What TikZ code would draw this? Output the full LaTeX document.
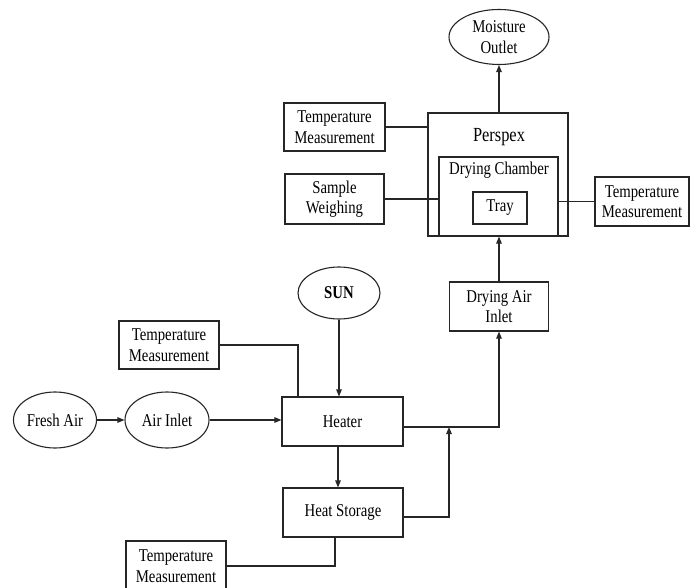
\documentclass[tikz,border=0pt]{standalone}
\usepackage{fontspec}
\setmainfont{Liberation Serif}[FakeStretch=0.82]
\usetikzlibrary{shapes.geometric,arrows.meta}
\newcommand\mydiafont{\fontsize{18}{20.5}\selectfont}
\newcommand\mybigfont{\fontsize{20}{22}\selectfont}
\begin{document}
\begin{tikzpicture}[x=1pt,y=-1pt,
  box/.style={draw=black!85, line width=1.1pt, inner sep=0pt, align=center, font=\mydiafont, text=black},
  ell/.style={ellipse, draw=black!85, line width=1.1pt, inner sep=0pt, align=center, font=\mydiafont, text=black},
  conn/.style={draw=black!85, line width=1.1pt},
  arr/.style={conn, -{Triangle[length=7pt,width=5.5pt]}}]
\clip (0,0) rectangle (690,588);
\fill[white] (0,0) rectangle (690,588);
% top part
\node[ell, minimum width=100pt, minimum height=55pt] (moist) at (499,37) {Moisture\\Outlet};
\node[box, minimum width=140pt, minimum height=123pt] (perspex) at (498,174.5) {};
\node[font=\mybigfont, text=black] (plabel) at (499,137) {Perspex};
\node[box, minimum width=119pt, minimum height=79pt] (chamber) at (498.5,196.5) {};
\node[font=\mydiafont, text=black] (clabel) at (499,170) {Drying Chamber};
\node[box, minimum width=54pt, minimum height=32pt] (tray) at (500,208) {Tray};
\node[box, minimum width=101pt, minimum height=48pt] (tm1) at (334.5,127) {Temperature\\Measurement};
\node[box, minimum width=99pt, minimum height=50pt] (sw) at (334.5,199) {Sample\\Weighing};
\node[box, minimum width=94pt, minimum height=49pt] (tm2) at (642,201.5) {Temperature\\Measurement};
\node[box, minimum width=99pt, minimum height=49pt] (dai) at (499,306.5) {Drying Air\\Inlet};
% middle
\node[ell, minimum width=82pt, minimum height=52pt, font=\mydiafont\bfseries] (sun) at (339,293) {SUN};
\node[box, minimum width=100pt, minimum height=48pt] (tm3) at (169,345) {Temperature\\Measurement};
\node[box, minimum width=121pt, minimum height=49pt] (heater) at (342.5,421.5) {Heater};
\node[ell, minimum width=83pt, minimum height=56pt] (fresh) at (55,420) {Fresh Air};
\node[ell, minimum width=84pt, minimum height=56pt] (ainlet) at (167,420) {Air Inlet};
\node[box, minimum width=120pt, minimum height=49pt] (hs) at (343,512.5) {Heat Storage};
\node[box, minimum width=100pt, minimum height=50pt] (tm4) at (176,566) {Temperature\\Measurement};
\coordinate (j) at (449,427);
\coordinate (hout) at ([yshift=-5.5pt]heater.east);
\coordinate (hsout) at ([yshift=-4.5pt]hs.east);
% connectors
\draw[arr] (perspex.north -| moist.south) -- (moist.south);
\draw[conn] (tm1.east) -- (tm1.east -| perspex.west);
\draw[conn] (sw.east) -- (sw.east -| chamber.west);
\draw[conn] (tm2.west -| chamber.east) -- (tm2.west);
\draw[arr] (dai.north) -- (dai.north |- perspex.south);
\draw[arr] (hout) -- (hout -| dai.south) -- (dai.south);
\draw[arr] (hsout) -- (hsout -| j) -- (j);
\draw[arr] (sun.south) -- (sun.south |- heater.north);
\draw[conn] (tm3.east) -- (tm3.east -| 298,0) -- (heater.north -| 298,0);
\draw[arr] (fresh.east) -- (ainlet.west);
\draw[arr] (ainlet.east) -- (ainlet.east -| heater.west);
\draw[arr] (heater.south -| 338,0) -- (hs.north -| 338,0);
\draw[conn] (tm4.east) -- (tm4.east -| 335,0) -- (hs.south -| 335,0);
\end{tikzpicture}
\end{document}
